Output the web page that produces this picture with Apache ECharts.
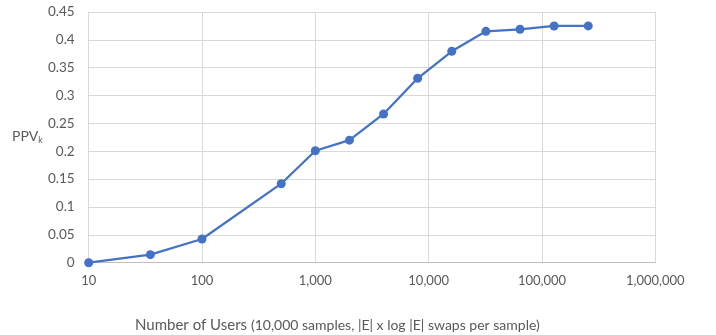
<!DOCTYPE html>
<html><head><meta charset="utf-8">
<script src="https://cdn.jsdelivr.net/npm/echarts@6/dist/echarts.min.js"></script>
<style>html,body{margin:0;padding:0;background:#fff}#c{width:716px;height:335px}</style>
</head><body><div id="c"></div>
<script>
const users = [10, 35, 100, 500, 1000, 2000, 4000, 8000, 16000, 32000, 64000, 128000, 256000];
const ppv = [0, 0.0144, 0.0425, 0.1418, 0.201, 0.220, 0.267, 0.331, 0.3795, 0.4153, 0.419, 0.4249, 0.425];
const xTicks = [10, 100, 1000, 10000, 100000, 1000000];
const yTicks = [0, 0.05, 0.1, 0.15, 0.2, 0.25, 0.3, 0.35, 0.4, 0.45];

const font = 'Lato, "Open Sans", sans-serif';
const chart = echarts.init(document.getElementById('c'), null, {renderer: 'canvas'});
chart.setOption({
  animation: false,
  grid: {left: 88.7, right: 60.7, top: 12, bottom: 72.3},
  xAxis: {
    type: 'log', logBase: 10, min: xTicks[0], max: xTicks[xTicks.length - 1],
    axisLine: {show: true, lineStyle: {color: '#bfbfbf', width: 1}},
    axisTick: {show: false},
    splitLine: {show: true, lineStyle: {color: '#d9d9d9', width: 1}},
    axisLabel: {color: '#595959', fontFamily: font, fontSize: 13, margin: 12,
      formatter: v => Number(v).toLocaleString('en-US')}
  },
  yAxis: {
    type: 'value', min: yTicks[0], max: yTicks[yTicks.length - 1], interval: 0.05,
    axisLine: {show: false}, axisTick: {show: false},
    splitLine: {show: true, lineStyle: {color: '#d9d9d9', width: 1}},
    axisLabel: {color: '#595959', fontFamily: font, fontSize: 13.5, margin: 14,
      formatter: v => String(+v.toFixed(2))}
  },
  graphic: [
    {type: 'text', left: 12, top: 129, style: {
      text: '{a|PPV}{s|k}', fill: '#595959',
      rich: {a: {fontFamily: font, fontSize: 14, fill: '#595959'},
             s: {fontFamily: font, fontSize: 8.5, fill: '#595959', verticalAlign: 'bottom', padding: [9, 0, 0, 0]}}
    }},
    {type: 'text', left: 135, top: 318, style: {
      text: '{a|Number of Users }{b|(10,000 samples, |E| x log |E| swaps per sample)}',
      rich: {a: {fontFamily: font, fontSize: 15, fill: '#595959'},
             b: {fontFamily: font, fontSize: 14, fill: '#595959'}}
    }}
  ],
  series: [{
    type: 'line',
    data: users.map((u, i) => [u, ppv[i]]),
    symbol: 'circle', symbolSize: 9,
    lineStyle: {color: '#4472C4', width: 2.25},
    itemStyle: {color: '#4472C4'}
  }]
});
</script></body></html>
